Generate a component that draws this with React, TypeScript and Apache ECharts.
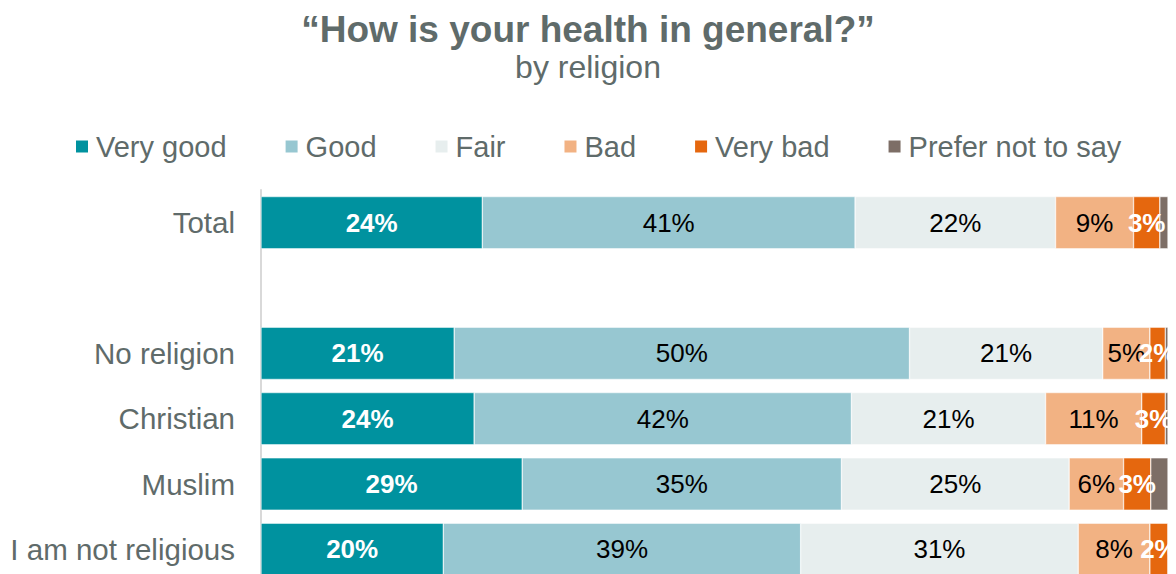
import React, { useEffect, useRef } from "react";
import * as echarts from "echarts";

const categories = ["Total", "", "No religion", "Christian", "Muslim", "I am not religious"];
const seriesNames = ["Very good", "Good", "Fair", "Bad", "Very bad", "Prefer not to say"];
const veryGood = [24.4, null, 21.3, 23.5, 28.8, 20.1];
const good = [41.1, null, 50.2, 41.6, 35.2, 39.4];
const fair = [22.1, null, 21.3, 21.4, 25.1, 30.6];
const bad = [8.6, null, 5.2, 10.6, 6.0, 7.9];
const veryBad = [2.9, null, 1.7, 2.6, 3.0, 2.0];
const preferNot = [0.9, null, 0.3, 0.3, 1.9, 0];
const colors = ["#00929F", "#97C7D1", "#E7EEEE", "#F2B283", "#E5670E", "#7D6E66"];
const labelStyles = [
  { color: "#FFFFFF", fontWeight: "bold", show: true },
  { color: "#000000", fontWeight: "normal", show: true },
  { color: "#000000", fontWeight: "normal", show: true },
  { color: "#000000", fontWeight: "normal", show: true },
  { color: "#FFFFFF", fontWeight: "bold", show: true },
  { color: "#000000", fontWeight: "normal", show: false },
];

const FONT = "Liberation Sans, Arial, sans-serif";

export default function App() {
  const ref = useRef<HTMLDivElement>(null);
  useEffect(() => {
    document.body.style.margin = "0";
    document.body.style.overflow = "hidden";
    const chart = echarts.init(ref.current!, null, { renderer: "svg" });
    const allData = [veryGood, good, fair, bad, veryBad, preferNot];
    chart.setOption({
      animation: false,
      textStyle: { fontFamily: FONT },
      title: [
        {
          text: "\u201CHow is your health in general?\u201D",
          left: "center",
          top: 6,
          textStyle: { fontSize: 37, fontWeight: "bold", color: "#5F6B6A", fontFamily: FONT },
        },
        {
          text: "by religion",
          left: "center",
          top: 46,
          textStyle: { fontSize: 32, fontWeight: "normal", color: "#5F6B6A", fontFamily: FONT },
        },
      ],
      legend: {
        top: 127,
        left: 69,
        itemWidth: 14,
        itemHeight: 14,
        itemGap: 57,
        icon: "rect",
        textStyle: { fontSize: 29, color: "#5F6B6A", padding: [0, 0, 0, 2] },
        data: seriesNames,
      },
      grid: { left: 261, right: 8, top: 190, bottom: 0, containLabel: false },
      xAxis: { type: "value", min: 0, max: 100, show: false },
      yAxis: {
        type: "category",
        data: categories,
        inverse: true,
        axisLine: { show: true, lineStyle: { color: "#D9D9D9", width: 2 } },
        axisTick: { show: false },
        axisLabel: { fontSize: 29.5, color: "#5F6B6A", margin: 26 },
      },
      series: seriesNames.map((name, i) => ({
        name,
        type: "bar",
        stack: "total",
        barCategoryGap: "20%",
        data: allData[i].map((v) => (v === null ? "-" : v)),
        itemStyle: { color: colors[i], borderColor: "#FFFFFF", borderWidth: 0.5 },
        label: {
          show: labelStyles[i].show,
          position: "inside",
          fontSize: 26,
          color: labelStyles[i].color,
          fontWeight: labelStyles[i].fontWeight,
          formatter: (p: any) => Math.round(p.value) + "%",
        },
      })),
    });
    return () => chart.dispose();
  }, []);
  return <div ref={ref} style={{ width: 1176, height: 582 }} />;
}
